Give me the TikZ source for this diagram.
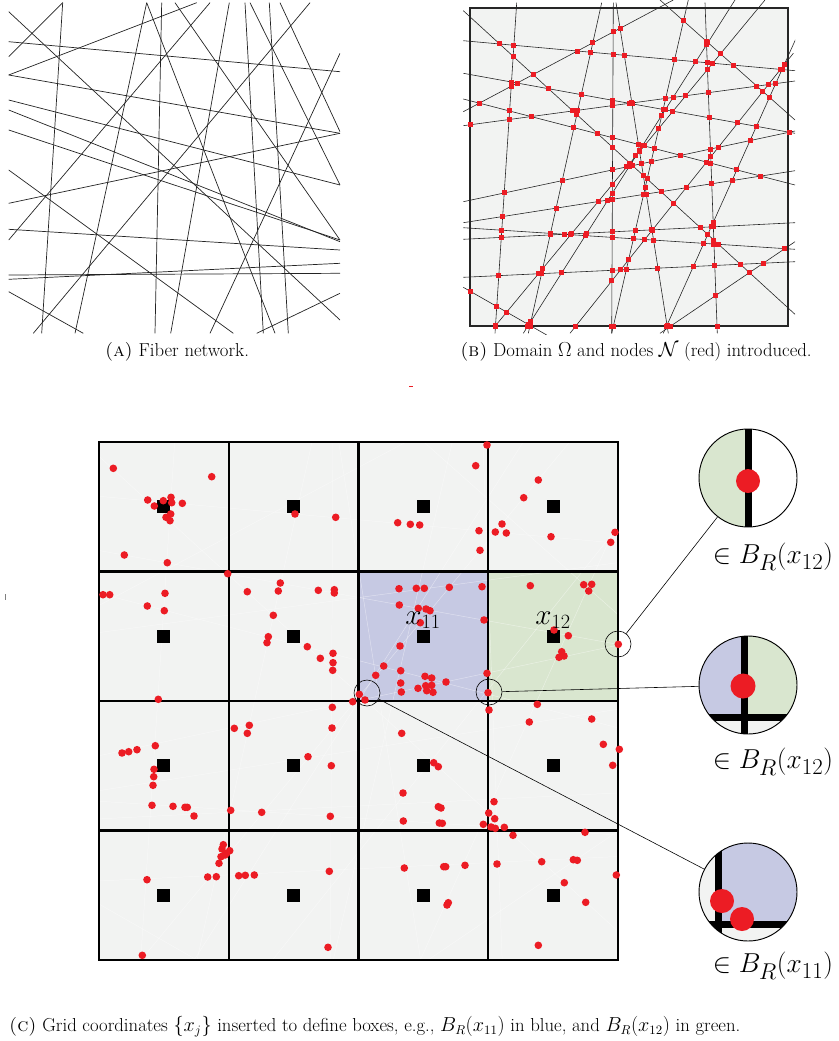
\documentclass[tikz,border=0pt]{standalone}
\usepackage{fontspec}
\usepackage{amssymb}

\definecolor{fibred}{RGB}{236,28,36}
\definecolor{cellgray}{RGB}{242,243,242}
\definecolor{cellblue}{RGB}{198,201,227}
\definecolor{cellgreen}{RGB}{217,230,207}
\definecolor{fibline}{RGB}{35,35,35}

% fibres of (A), x1/y1/x2/y2 in pixels
\newcommand\fibresA{8.7/11.7/340/320, 8.7/56.7/62.7/2.7, 62.7/2.7/41.7/333.3,
  146.7/2.7/75/333.3, 146.7/2.7/275/333.3, 161.7/2.7/155/333.3, 175/2.7/340/240,
  196.7/2.7/8.7/75, 210/2.7/8.7/240, 229.3/2.7/170.7/333.3, 245/2.7/263.3/333.3,
  250/2.7/340/185, 269.3/2.7/288.3/333.3, 280/2.7/340/131.7, 310/2.7/33.3/333.3,
  340/53.3/210/333.3, 8.7/41.7/340/71.7, 8.7/75/340/133.3, 8.7/100/340/185,
  8.7/110/340/241.7, 8.7/130/340/240, 8.7/170/233.3/333.3, 8.7/203.3/340/133.3,
  8.7/229.3/340/250, 8.7/275/340/273.3, 8.7/279.3/340/263.3, 8.7/291.7/83.3/333.3,
  340/293.3/256.7/333.3}
% fibres of (B), then the four sides of the domain
\newcommand\fibresB{516.7/2.7/495/333.3, 601.7/2.7/528.3/333.3, 613.3/2.7/611.7/333.3,
  616/2.7/668.3/333.3, 705/2.7/717.3/333.3, 688.3/0/611.7/333.3, 463.3/111.7/673.3/0,
  493.3/328.3/765/0, 523.3/333.3/735/0, 570/333.3/793.3/53.3, 813.3/0/663.3/333.3,
  463.3/40.7/795/70.7, 463.3/73.3/795/133.3, 463.3/99/795/185, 463.3/125.7/795/81,
  463.3/201.7/795/131, 463.3/222.7/795/170.7, 463.3/227.7/795/249.3, 463.3/239.3/795/222.7,
  463.3/277.3/795/261.7, 660/333.3/795/241.7, 463.3/10.7/795/314.3, 463.3/287.3/546.7/335,
  660/0/795/120,
  470/8/788/8, 788/8/788/326, 788/326/470/326, 470/326/470/8}

\begin{document}
\begin{tikzpicture}[x=0.03cm,y=-0.03cm,
    fibre/.style={fibline,line width=0.6pt},
    nodedot/.style={fill=fibred},
    gridline/.style={line width=1.8pt},
    loupe/.style={circle,draw,line width=0.5pt,minimum size=0.78cm,inner sep=0pt},
    magnifier/.style={circle,draw,line width=0.8pt,minimum size=2.94cm,inner sep=0pt},
    bar/.style={fill=black},
    connector/.style={line width=0.5pt},
    caption/.style={font=\fontsize{16}{19}\selectfont,inner sep=0pt},
    maglabel/.style={font=\fontsize{24.88}{28}\selectfont,inner sep=0pt,scale=0.94},
    celllabel/.style={font=\fontsize{24}{28}\selectfont,inner sep=0pt}]
  \useasboundingbox (0,0) rectangle (838,1041);

  % (A) fibre network
  \begin{scope}
    \clip (8.7,2.7) rectangle (340,333.3);
    \foreach \xa/\ya/\xb/\yb in \fibresA
      \draw[fibre] (\xa,\ya) -- (\xb,\yb);
  \end{scope}
  \node[caption] (capA) at (177,352) {\textsc{(a)} Fiber network.};

  % (B) domain and nodes
  \fill[cellgray] (470,8) rectangle (788,326);
  \begin{scope}
    \clip (463,0) rectangle (795,334);
    \foreach \xa/\ya/\xb/\yb [count=\i] in \fibresB {
      \ifnum\i<25 \draw[fibline,line width=0.5pt] (\xa,\ya) -- (\xb,\yb); \fi
    }
  \end{scope}
  \draw[line width=2pt,black!85] (470,8) rectangle (788,326);
  % nodes: crossings of fibres, and a few on the lower and left sides
  \foreach \xa/\ya/\xb/\yb [count=\i] in \fibresB {
    \ifnum\i<25
    \foreach \xc/\yc/\xd/\yd [count=\j] in \fibresB {
      \ifnum\fpeval{(\j>\i && \j<25) || \j==27 || (\j==28 && (\i==15 || \i==23))}=1
        \edef\dd{\fpeval{(\xb-\xa)*(\yd-\yc)-(\yb-\ya)*(\xd-\xc)}}
        \ifnum\fpeval{abs(\dd)>0.001}=1
          \edef\tpar{\fpeval{((\xc-\xa)*(\yd-\yc)-(\yc-\ya)*(\xd-\xc))/\dd}}
          \edef\upar{\fpeval{((\xc-\xa)*(\yb-\ya)-(\yc-\ya)*(\xb-\xa))/\dd}}
          \ifnum\fpeval{\tpar>=0 && \tpar<=1 && \upar>=0 && \upar<=1}=1
            \edef\px{\fpeval{round(\xa+\tpar*(\xb-\xa),2)}}
            \edef\py{\fpeval{round(\ya+\tpar*(\yb-\ya),2)}}
            \ifnum\fpeval{\px>=468 && \px<=790 && \py>=6 && \py<=328}=1
              \fill[nodedot] (\px-2.5,\py-2.5) rectangle ++(5,5);
            \fi
          \fi
        \fi
      \fi
    }
    \fi
  }
  \node[caption] (capB) at (636,352)
    {\textsc{(b)} Domain $\Omega$ and nodes $\mathcal{N}$ (red) introduced.};
  \draw[fibred,line width=0.5pt] (409,386) -- (413,386);
  \draw[gray,line width=0.4pt] (5,594) -- (5,600);

  % (C) grid of boxes
  \fill[cellgray] (99,442) rectangle (618,960);
  \fill[cellblue] (358.5,571.5) rectangle (488.25,701);
  \fill[cellgreen] (488.25,571.5) rectangle (618,701);
  \begin{scope}
    \clip (99,442) rectangle (618,960);
    \begin{scope}[shift={(-668,428.9)},scale=1.632]
      \foreach \xa/\ya/\xb/\yb [count=\i] in \fibresB {
        \ifnum\i<25 \draw[white,line width=0.4pt,opacity=0.45] (\xa,\ya) -- (\xb,\yb); \fi
      }
    \end{scope}
  \end{scope}
  \foreach \gx in {228.75,358.5,488.25}
    \draw[gridline] (\gx,442) -- (\gx,960);
  \foreach \gy in {571.5,701,830.5}
    \draw[gridline] (99,\gy) -- (618,\gy);
  \draw[line width=1pt] (99,442) rectangle (618,960);
  % grid coordinates x_j
  \foreach \cx in {163.9,293.6,423.4,553.1}
    \foreach \cy in {506.8,636.3,765.8,895.3}
      \fill (\cx-6.5,\cy-6.5) rectangle ++(13,13);
  % nodes
  \foreach \px/\py in {113.3/468.3, 211.7/476.7, 147.7/500, 154.3/506, 163.3/500.7,
      171/497.3, 171.7/502.7, 182.3/503.3, 170.7/514, 166/517.3, 170/520.7, 124.3/555,
      167.3/562.7, 295/514, 335.7/517.3, 227.7/573.7, 103/594.7, 109.7/594.7, 165/593.3,
      147.3/606, 164.3/610.7, 280.3/583, 278.3/591, 247.3/591.7, 318.3/590.3, 334.3/589.7,
      334.3/593, 273.3/615.3, 268.3/636.7, 267/642.7, 307.3/646.7, 320.3/658.3, 333/653.3,
      333/662.7, 332.7/670.3, 158.3/699.3, 359.3/694.3, 352.7/701.7,
      487/445, 475.7/465.7, 397.7/522.7, 410.3/524.3, 419.7/525, 479/530.7, 480/550.3,
      538.3/480, 523.7/497.7, 502/524, 495.3/532, 506.3/533, 551/536.7, 615/532.3,
      610.7/542.3,
      399/588.7, 416.3/588.3, 424.3/588.3, 449.3/587.3, 482/586.7, 399.3/605, 418.3/608.3,
      426/609, 430/610.7, 420.3/622.7, 484/620, 400/646, 383.7/666, 375.7/675.3,
      400.7/670.7, 400.7/683, 401.3/692, 418/688.3, 425/676.3, 431.7/678, 425.7/685.7,
      431.7/685.3, 426.7/690.7, 433/692.3, 446/682, 487/673.3, 488/692.7, 365/700,
      530.3/585.7, 583.7/584.7, 591.7/584.3, 588.7/591, 568.3/635.7, 561.7/651.7,
      559/657.3, 564/656, 554/630, 618.3/644.3, 537.3/704.3,
      332.3/707.3, 332/728, 234.3/728.3, 249.3/725.3, 247.3/733.3, 155.3/745.7,
      137/749.7, 128.7/751.7, 122/753, 154/769.3, 153.7/776.7, 153/785.3, 308/756.7,
      331.3/765.7, 152/805.3, 173/806.3, 185/807.3, 187.3/807.3, 194/816, 230.7/810.3,
      261.7/812.3, 330.3/816.3, 223.3/844.7, 222/849, 229.7/850.7, 226.7/853.3, 221/856.7,
      225/855, 219/863.3, 207.7/877, 216.3/876.7, 238.7/875.7, 245.3/875.3, 254.3/875,
      147/879.7, 329.3/871.3, 328/947.3, 142.3/955.3,
      489/710, 529.3/722, 591.7/719, 603.3/744.3, 619.3/749.3, 612.7/765.3, 401.7/733.3,
      433.7/762.7, 438.3/766.7, 403/793, 438.3/806.7, 441/808, 403.3/821, 439.3/823,
      442.3/823.3, 494/801.7, 488.7/813, 494.7/818.7, 483.3/824.3, 491/827, 495.3/828.3,
      504.3/827.3, 513/835.3, 585/832.3, 404.3/868, 443.7/866.7, 445.7/866.7, 465/865.3,
      497/864, 541.7/861.7, 573.3/859.7, 577.3/860.3, 616.3/875, 564.3/882.7, 585.7/902.3,
      448.3/902.7, 447/905, 538.3/945.3}
    \fill[nodedot] (\px,\py) circle[radius=3.8];
  \node[celllabel] (lab11) at (423,620) {$x_{11}$};
  \node[celllabel] (lab12) at (553,620) {$x_{12}$};

  % spots and their magnified views
  \node[loupe] (spotA) at (618,644) {};
  \node[loupe] (spotB) at (489,692) {};
  \node[loupe] (spotC) at (367,693) {};

  \begin{scope}
    \clip (748,478) circle[radius=49];
    \fill[cellgreen] (690,420) rectangle (748,540);
    \fill[white] (748,420) rectangle (810,540);
    \fill[bar] (744.5,420) rectangle (751.5,540);
    \fill[nodedot] (748,481) circle[radius=12];
  \end{scope}
  \node[magnifier] (magA) at (748,478) {};

  \begin{scope}
    \clip (748,685) circle[radius=49];
    \fill[cellblue] (690,630) rectangle (744,717);
    \fill[cellgreen] (744,630) rectangle (810,717);
    \fill[cellgray] (690,717) rectangle (810,745);
    \fill[bar] (740.5,630) rectangle (747.5,745);
    \fill[bar] (690,713.5) rectangle (810,720.5);
    \fill[nodedot] (743,686) circle[radius=12.5];
  \end{scope}
  \node[magnifier] (magB) at (748,685) {};

  \begin{scope}
    \clip (748,892) circle[radius=49];
    \fill[cellgray] (690,835) rectangle (810,950);
    \fill[cellblue] (718,835) rectangle (810,924);
    \fill[bar] (714.5,835) rectangle (721.5,950);
    \fill[bar] (690,920.5) rectangle (810,927.5);
    \fill[nodedot] (722,901) circle[radius=12];
    \fill[nodedot] (742,919) circle[radius=12];
  \end{scope}
  \node[magnifier] (magC) at (748,892) {};

  \draw[connector] (spotA) -- (magA);
  \draw[connector] (spotB) -- (magB);
  \draw[connector] (spotC) -- (magC);

  \node[maglabel] (labA) at (773,557) {$\in B_R(x_{12})$};
  \node[maglabel] (labB) at (773,762) {$\in B_R(x_{12})$};
  \node[maglabel] (labC) at (773,966) {$\in B_R(x_{11})$};

  \node[caption,anchor=west] (capC) at (9,1027)
    {\textsc{(c)} Grid coordinates $\{x_j\}$ inserted to define boxes, e.g.,
     $B_R(x_{11})$ in blue, and $B_R(x_{12})$ in green.};
\end{tikzpicture}
\end{document}
